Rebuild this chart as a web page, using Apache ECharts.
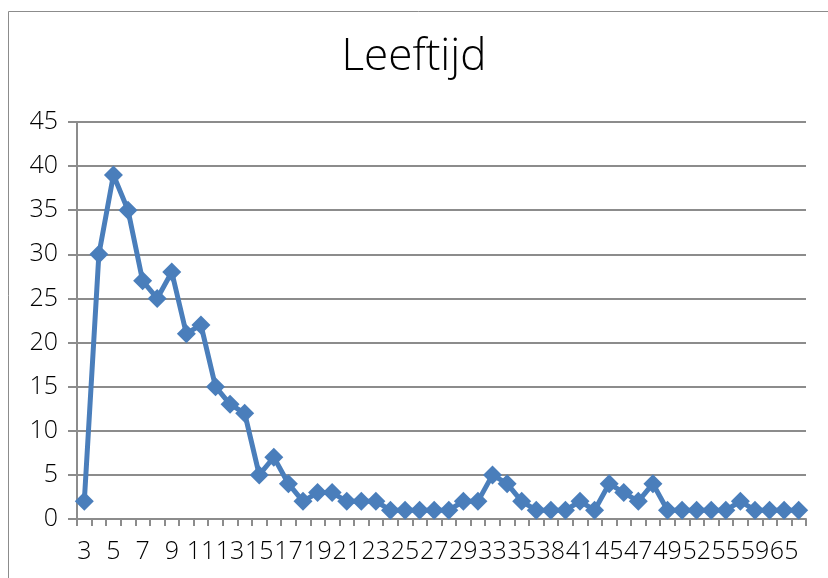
<!DOCTYPE html>
<html>
<head>
<meta charset="utf-8">
<script src="https://cdn.jsdelivr.net/npm/echarts@6/dist/echarts.min.js"></script>
<style>
  html, body { margin: 0; padding: 0; background: #fff; }
  #chart { width: 828px; height: 578px; }
</style>
</head>
<body>
<div id="chart"></div>
<script>
// leeftijden (categorieen), elke tweede wordt als label getoond
var ages = [3, 4, 5, 6, 7, 8, 9, 10, 11, 12, 13, 14, 15, 16, 17, 18, 19, 20, 21, 22,
    23, 24, 25, 26, 27, 28, 29, 31, 33, 34, 35, 36, 38, 39, 41, 43, 45, 46, 47, 48,
    49, 50, 52, 53, 55, 56, 59, 60, 65, 70];
// aantallen per leeftijd
var counts = [2, 30, 39, 35, 27, 25, 28, 21, 22, 15, 13, 12, 5, 7, 4, 2, 3, 3, 2, 2,
    2, 1, 1, 1, 1, 1, 2, 2, 5, 4, 2, 1, 1, 1, 2, 1, 4, 3, 2, 4,
    1, 1, 1, 1, 1, 2, 1, 1, 1, 1];
var yTicks = [0, 5, 10, 15, 20, 25, 30, 35, 40, 45];

var font = '"Open Sans", "Noto Sans", sans-serif';
var lineColor = '#4a7ebb';
var gridColor = '#8c8c8c';

var myChart = echarts.init(document.getElementById('chart'), null, {renderer: 'canvas'});

myChart.setOption({
    backgroundColor: '#ffffff',
    animation: false,
    graphic: [{
        type: 'rect',
        shape: {x: 8.5, y: 11.5, width: 1000, height: 1000},
        style: {fill: 'none', stroke: '#8c8c8c', lineWidth: 1},
        silent: true
    }],
    title: {
        text: 'Leeftijd',
        left: 'center',
        top: 30,
        textStyle: {fontFamily: font, fontSize: 44, fontWeight: 300, color: '#000'}
    },
    grid: {left: 77, right: 22, top: 122, bottom: 59, containLabel: false},
    xAxis: {
        type: 'category',
        data: ages,
        boundaryGap: true,
        axisLine: {lineStyle: {color: gridColor, width: 2}},
        axisTick: {show: true, interval: 0, length: 7, lineStyle: {color: gridColor, width: 2}},
        axisLabel: {
            interval: 1,
            margin: 20,
            fontFamily: font,
            fontSize: 25,
            fontWeight: 300,
            color: '#000'
        },
        splitLine: {show: false}
    },
    yAxis: {
        type: 'value',
        min: yTicks[0],
        max: yTicks[yTicks.length - 1],
        interval: 5,
        axisLine: {show: true, lineStyle: {color: gridColor, width: 2}},
        axisTick: {show: true, length: 9, lineStyle: {color: gridColor, width: 2}},
        axisLabel: {
            margin: 19,
            fontFamily: font,
            fontSize: 25,
            fontWeight: 300,
            color: '#000'
        },
        splitLine: {show: true, lineStyle: {color: gridColor, width: 2}}
    },
    series: [{
        name: 'Leeftijd',
        type: 'line',
        data: counts,
        showAllSymbol: true,
        symbol: 'diamond',
        symbolSize: 19,
        lineStyle: {color: lineColor, width: 5},
        itemStyle: {color: lineColor}
    }]
});
</script>
</body>
</html>
